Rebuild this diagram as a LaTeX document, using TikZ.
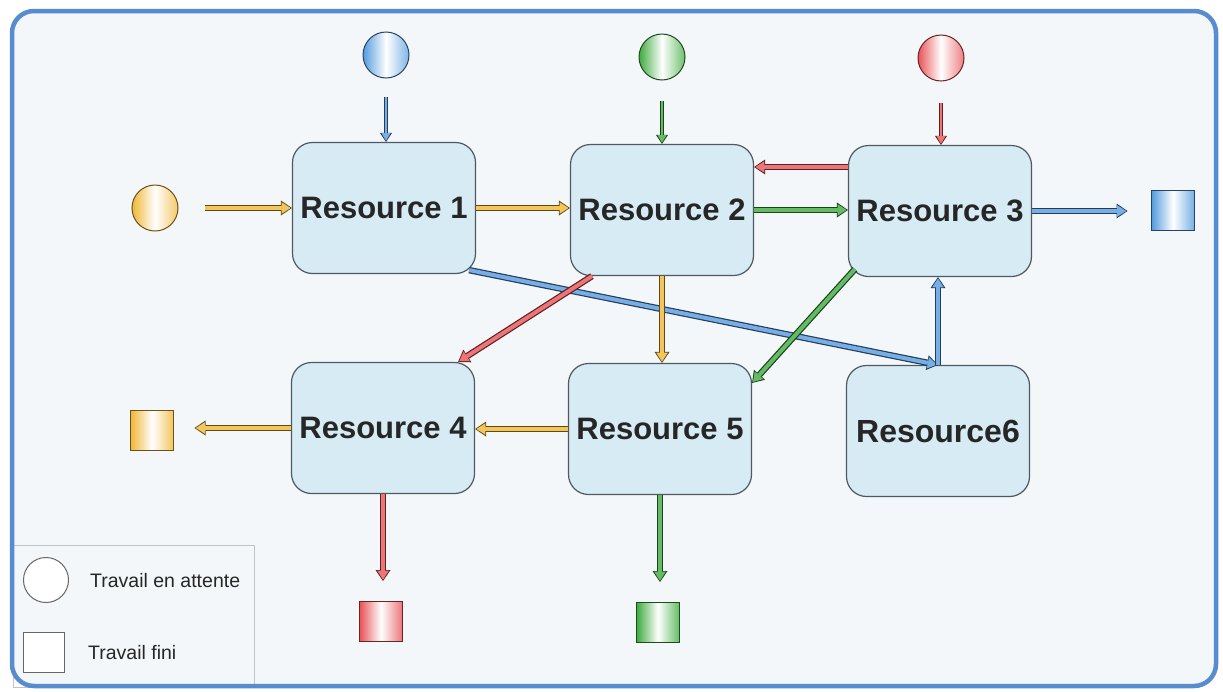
\documentclass[tikz,border=0pt]{standalone}
\usepackage{fontspec}
\setmainfont{Liberation Sans}
\usetikzlibrary{arrows.meta,calc}

\definecolor{frameblue}{RGB}{88,140,208}
\definecolor{paper}{RGB}{243,247,249}
\definecolor{boxfill}{RGB}{214,235,244}
\definecolor{boxline}{RGB}{80,88,96}
\definecolor{cblue}{RGB}{84,154,222}
\definecolor{cgreen}{RGB}{62,170,62}
\definecolor{cred}{RGB}{232,82,86}
\definecolor{cyellow}{RGB}{240,182,52}
\definecolor{legendline}{RGB}{190,195,198}

\tikzset{
  res/.style={draw=boxline, line width=1.2pt, fill=boxfill, rounded corners=20pt,
    minimum width=183pt, minimum height=131pt, inner sep=0pt,
    font=\fontsize{31}{36}\selectfont\bfseries, text=black!85},
  waiting/.style={circle, draw=#1!45!black, line width=1pt, minimum size=46pt, inner sep=0pt,
    left color=#1, right color=#1!75, middle color=white},
  done/.style={rectangle, draw=#1!45!black, line width=1pt, minimum width=43pt, minimum height=40pt,
    inner sep=0pt, left color=#1, right color=#1!80, middle color=white},
  flow/.style={line width=6.4pt, draw=#1!40!black,
    -{Triangle[length=11pt,width=15pt,line width=0pt]},
    postaction={draw=#1!80!white, line width=4pt,
      -{Triangle[length=9pt,width=11.5pt,line width=0pt]}, shorten >=1.3pt}},
  feed/.style={line width=4.6pt, draw=#1!40!black,
    -{Triangle[length=9pt,width=12pt,line width=0pt]},
    postaction={draw=#1!80!white, line width=2.6pt,
      -{Triangle[length=7.5pt,width=9pt,line width=0pt]}, shorten >=1.2pt}},
  legtext/.style={anchor=west, inner sep=0pt, font=\fontsize{19.5}{23}\selectfont, text=black!85},
}

\begin{document}
\begin{tikzpicture}[x=1pt, y=-1pt]
  \useasboundingbox (0,0) rectangle (1223,691);
  \fill[white] (0,0) rectangle (1223,691);

  % panel background
  \fill[paper, rounded corners=22pt] (12,11) rectangle (1216,686);

  % legend
  \node[draw=legendline, line width=0.8pt, minimum width=241pt, minimum height=142pt,
        inner sep=0pt] (legend) at (133.5,616) {};
  \node[circle, draw=black!60, line width=1pt, fill=white, minimum size=45pt, inner sep=0pt]
        (legwait) at (46,580) {};
  \node[legtext] (legwaittxt) at (90,581) {Travail en attente};
  \node[rectangle, draw=black!60, line width=1pt, fill=white, minimum width=41pt,
        minimum height=40pt, inner sep=0pt] (legdone) at (44,652) {};
  \node[legtext] (legdonetxt) at (88,653) {Travail fini};

  % resources
  \node[res] (R1) at (384,208) {Resource 1};
  \node[res] (R2) at (662,210) {Resource 2};
  \node[res] (R3) at (940,211) {Resource 3};
  \node[res] (R4) at (383,428) {Resource 4};
  \node[res] (R5) at (660,429) {Resource 5};
  \node[res, font=\fontsize{32}{36}\selectfont\bfseries] (R6) at (938,431) {Resource6};

  % waiting work
  \node[waiting=cblue,   outer sep=19pt] (Wb) at (386,55) {};
  \node[waiting=cgreen,  outer sep=21pt] (Wg) at (662,57) {};
  \node[waiting=cred,    outer sep=22pt] (Wr) at (941,58) {};
  \node[waiting=cyellow, outer sep=27pt] (Wy) at (155,208) {};

  % finished work
  \node[done=cblue,   outer sep=24pt] (Db) at (1173,210) {};
  \node[done=cyellow, outer sep=21pt] (Dy) at (152,430) {};
  \node[done=cred,    outer sep=20pt] (Dr) at (381,621) {};
  \node[done=cgreen,  outer sep=20pt] (Dg) at (658,622) {};

  % incoming work
  \draw[feed=cblue]  (Wb.south) -- (Wb.south |- R1.north);
  \draw[feed=cgreen] (Wg.south) -- (Wg.south |- R2.north);
  \draw[feed=cred]   (Wr.south) -- (Wr.south |- R3.north);
  \draw[flow=cyellow] (Wy.east) -- (R1.west);

  % flows between resources
  \draw[flow=cyellow] (R1.east) -- (R1.east -| R2.west);
  \draw[flow=cgreen]  (R2.east) -- (R2.east -| R3.west);
  \draw[flow=cred]    ([yshift=44pt]R3.west) -- ([yshift=44pt]R3.west -| R2.east);
  \draw[flow=cblue]   ([xshift=-7pt,yshift=4pt]R1.south east) -- (R6.north);
  \draw[flow=cred]    ([xshift=-70pt]R2.south) -- ([xshift=-17pt]R4.north east);
  \draw[flow=cyellow] (R2.south) -- (R2.south |- R5.north);
  \draw[flow=cgreen]  ([xshift=7pt,yshift=8pt]R3.south west) -- ([yshift=-20pt]R5.north east);
  \draw[flow=cblue]   (R6.north) -- (R6.north |- R3.south);
  \draw[flow=cyellow] (R5.west) -- (R5.west -| R4.east);

  % finished outputs
  \draw[flow=cblue]   (R3.east) -- (R3.east -| Db.west);
  \draw[flow=cyellow] (R4.west) -- (R4.west -| Dy.east);
  \draw[flow=cred]    (R4.south) -- (R4.south |- Dr.north);
  \draw[flow=cgreen]  (R5.south) -- (R5.south |- Dg.north);

  % panel border
  \draw[frameblue, line width=4.5pt, rounded corners=22pt] (12,11) rectangle (1216,686);
\end{tikzpicture}
\end{document}
